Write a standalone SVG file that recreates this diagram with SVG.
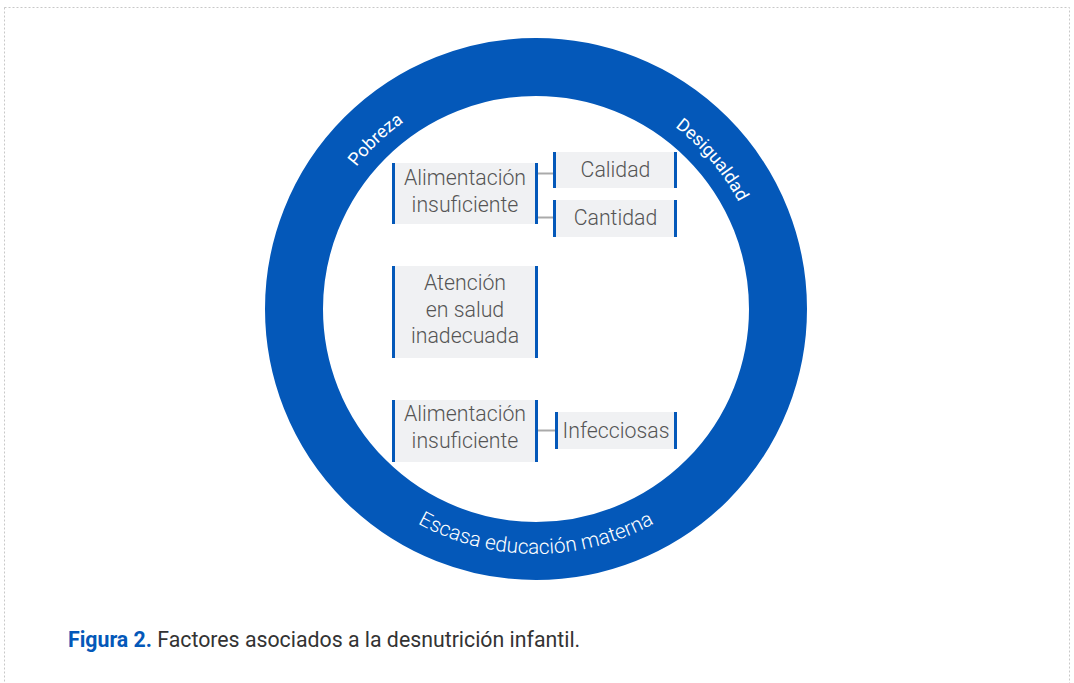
<svg xmlns="http://www.w3.org/2000/svg" xmlns:xlink="http://www.w3.org/1999/xlink" width="1074" height="683" viewBox="0 0 1074 683">
<style>
.box{fill:#f0f1f3}
.bar{fill:#0458b9}
.t{font-family:Roboto,"Liberation Sans",sans-serif;font-size:21.3px;fill:#555;font-weight:300;text-anchor:middle}
.ring{font-family:Roboto,"Liberation Sans",sans-serif;font-size:18px;fill:#fff;font-weight:400;text-anchor:middle}
.ringb{font-family:Roboto,"Liberation Sans",sans-serif;font-size:20.8px;fill:#fff;font-weight:300;text-anchor:middle}
.conn{stroke:#aaa;stroke-width:2;fill:none}
</style>
<defs>
<path id="topArc" d="M 307 309 A 229 229 0 0 1 765 309"/>
<path id="botArc" d="M 291 309 A 245 245 0 0 0 781 309"/>
</defs>
<rect x="4.5" y="7.5" width="1065" height="690" fill="none" stroke="#c8c8c8" stroke-width="1" stroke-dasharray="2 2"/>
<g id="ring">
<circle cx="536" cy="309" r="242" fill="none" stroke="#0458b9" stroke-width="58"/>
<text class="ring"><textPath xlink:href="#topArc" href="#topArc" startOffset="185.9">Pobreza</textPath></text>
<text class="ring"><textPath xlink:href="#topArc" href="#topArc" startOffset="558.4">Desigualdad</textPath></text>
<text class="ringb"><textPath xlink:href="#botArc" href="#botArc" startOffset="50%">Escasa educación materna</textPath></text>
</g>
<g id="connectors">
<line class="conn" x1="538" y1="173.5" x2="553" y2="173.5"/>
<line class="conn" x1="538" y1="217.5" x2="553" y2="217.5"/>
<line class="conn" x1="538" y1="430.5" x2="555" y2="430.5"/>
</g>
<g id="node-alim1">
<rect class="box" x="392" y="163" width="146" height="61"/>
<rect class="bar" x="392" y="163" width="3" height="61"/>
<rect class="bar" x="535" y="163" width="3" height="61"/>
<text class="t" x="465" y="185">Alimentación</text>
<text class="t" x="465" y="212">insuficiente</text>
</g>
<g id="node-calidad">
<rect class="box" x="553" y="152" width="124" height="36"/>
<rect class="bar" x="553" y="152" width="3" height="36"/>
<rect class="bar" x="674" y="152" width="3" height="36"/>
<text class="t" x="615.5" y="177">Calidad</text>
</g>
<g id="node-cantidad">
<rect class="box" x="553" y="200" width="124" height="37"/>
<rect class="bar" x="553" y="200" width="3" height="37"/>
<rect class="bar" x="674" y="200" width="3" height="37"/>
<text class="t" x="615.5" y="225">Cantidad</text>
</g>
<g id="node-atencion">
<rect class="box" x="392" y="266" width="146" height="92"/>
<rect class="bar" x="392" y="266" width="3" height="92"/>
<rect class="bar" x="535" y="266" width="3" height="92"/>
<text class="t" x="465" y="290">Atención</text>
<text class="t" x="465" y="317">en salud</text>
<text class="t" x="465" y="343">inadecuada</text>
</g>
<g id="node-alim2">
<rect class="box" x="392" y="400" width="146" height="62"/>
<rect class="bar" x="392" y="400" width="3" height="62"/>
<rect class="bar" x="535" y="400" width="3" height="62"/>
<text class="t" x="465" y="421">Alimentación</text>
<text class="t" x="465" y="448">insuficiente</text>
</g>
<g id="node-infecciosas">
<rect class="box" x="555" y="412" width="122" height="37"/>
<rect class="bar" x="555" y="412" width="3" height="37"/>
<rect class="bar" x="674" y="412" width="3" height="37"/>
<text class="t" x="616" y="438">Infecciosas</text>
</g>
<text x="68" y="647" font-family="Roboto,'Liberation Sans',sans-serif" font-size="21.3" fill="#333"><tspan font-weight="700" fill="#0458b9">Figura 2.</tspan> Factores asociados a la desnutrición infantil.</text>
</svg>
